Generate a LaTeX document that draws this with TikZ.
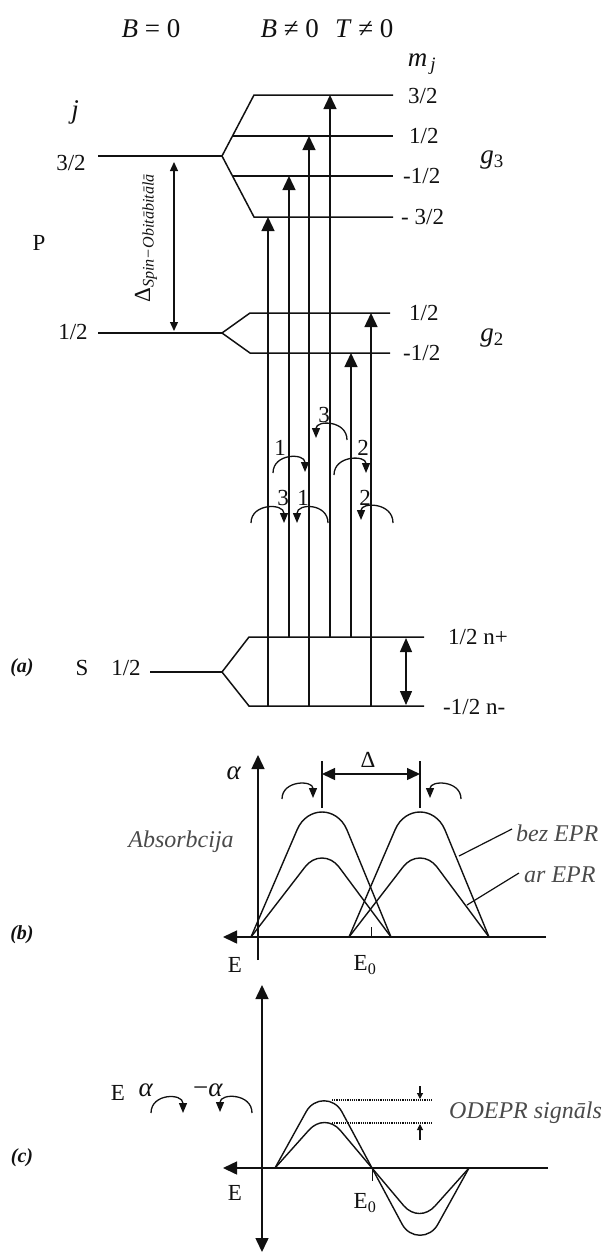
\documentclass[tikz,border=0pt]{standalone}
\usepackage{fontspec}
\setmainfont{Liberation Serif}
\usepackage{xcolor}
\usetikzlibrary{arrows.meta}
\definecolor{ink}{HTML}{111111}
\definecolor{soft}{HTML}{4A4A4A}

\begin{document}
\begin{tikzpicture}[x=1pt, y=-1pt, ink,
  lvl/.style={line width=1.5pt},
  trn/.style={line width=1.4pt, -{Triangle[length=14pt,width=13pt]}},
  curl/.style={line width=1.3pt, -{Triangle[length=10pt,width=8pt]}},
  dbl/.style={line width=1.4pt, {Triangle[length=13pt,width=12pt]}-{Triangle[length=13pt,width=12pt]}},
  crv/.style={line width=1.4pt, line join=round},
  lbl/.style={font=\fontsize{23}{26}\selectfont, inner sep=0pt},
  big/.style={font=\fontsize{27}{30}\selectfont, inner sep=0pt},
  tag/.style={font=\fontsize{20}{22}\selectfont\bfseries\itshape, inner sep=0pt},
  note/.style={font=\fontsize{24}{27}\selectfont\itshape, text=soft, inner sep=0pt}
]
\useasboundingbox (0,0) rectangle (602,1253);

% headings
\node[big] (bzero) at (151,29) {\textit{B} = 0};
\node[big] (bnon) at (327,29) {\textit{B} ≠ 0\hspace{0.6em}\textit{T} ≠ 0};
\node[big] (mj) at (422,64) {\textit{m}\textsubscript{\,\textit{j}}};
\node[big] (jj) at (75,112) {\textit{j}};

% P term, j = 3/2
\coordinate (pa) at (222,156);
\coordinate (u3) at (393,95);
\coordinate (u1) at (393,136);
\coordinate (um1) at (393,176);
\coordinate (um3) at (393,217);
\draw[lvl] (98,156) -- (pa);
\draw[lvl] (pa) -- (254,95) -- (u3);
\draw[lvl] (233,136) -- (u1);
\draw[lvl] (233,176) -- (um1);
\draw[lvl] (pa) -- (254,217) -- (um3);
\node[lbl] (l32) at (71,163) {3/2};
\node[lbl, anchor=west] (r3) at (408,96) {3/2};
\node[lbl, anchor=west] (r1) at (409,136) {1/2};
\node[lbl, anchor=west] (rm1) at (403,176) {-1/2};
\node[lbl, anchor=west] (rm3) at (401,217) {- 3/2};
\node[big] (g3) at (492,160) {\textit{g}\textsubscript{3}};
\node[lbl] (pp) at (39,243) {P};

% P term, j = 1/2
\coordinate (pb) at (222,333);
\coordinate (v1) at (390,313);
\coordinate (vm1) at (390,353);
\draw[lvl] (98,333) -- (pb);
\draw[lvl] (pb) -- (250,313) -- (v1);
\draw[lvl] (pb) -- (250,353) -- (vm1);
\node[lbl] (l12) at (73,332) {1/2};
\node[lbl, anchor=west] (s1) at (409,313) {1/2};
\node[lbl, anchor=west] (sm1) at (403,353) {-1/2};
\node[big] (g2) at (492,338) {\textit{g}\textsubscript{2}};

% spin-orbit gap
\coordinate (so1) at (174,162);
\coordinate (so2) at (174,331);
\draw[line width=1.3pt, {Triangle[length=9pt,width=8pt]}-{Triangle[length=9pt,width=8pt]}] (so1) -- (so2);
\node[lbl, rotate=90] (delso) at (146,238) {Δ\textsubscript{\textit{Spin−Obitābitālā}}};

% S term
\coordinate (sa) at (222,672);
\coordinate (np) at (424,637);
\coordinate (nm) at (424,706);
\draw[lvl] (150,672) -- (sa);
\draw[lvl] (sa) -- (249,637) -- (np);
\draw[lvl] (sa) -- (249,706) -- (nm);
\node[lbl] (ss) at (82,668) {S};
\node[lbl] (s12) at (126,668) {1/2};
\node[lbl, anchor=west] (lnp) at (448,637) {1/2 n+};
\node[lbl, anchor=west] (lnm) at (443,707) {-1/2 n-};
\coordinate (sd1) at (406,638);
\coordinate (sd2) at (406,705);
\draw[line width=1.4pt, {Triangle[length=14pt,width=12pt]}-{Triangle[length=14pt,width=12pt]}] (sd1) -- (sd2);
\node[tag] (taga) at (22,668) {(a)};

% optical transitions
\foreach \n/\x in {a/268, b/289, c/309, d/330, e/351, f/371}
  \coordinate (col\n) at (\x,0);
\draw[trn] (cola |- nm) -- (cola |- um3);
\draw[trn] (colb |- np) -- (colb |- um1);
\draw[trn] (colc |- nm) -- (colc |- u1);
\draw[trn] (cold |- np) -- (cold |- u3);
\draw[trn] (cole |- np) -- (cole |- vm1);
\draw[trn] (colf |- nm) -- (colf |- v1);

% polarisation curls
\draw[curl] (347,440) .. controls (347,420) and (316,420) .. (316,438);
\draw[curl] (273,473) .. controls (273,453) and (305,453) .. (305,472);
\draw[curl] (334,475) .. controls (334,455) and (366,455) .. (366,473);
\draw[curl] (251,523) .. controls (251,503) and (284,503) .. (284,523);
\draw[curl] (328,523) .. controls (328,503) and (297,503) .. (297,523);
\draw[curl] (393,523) .. controls (393,502) and (361,502) .. (361,520);
\node[lbl] (k3a) at (324,415) {3};
\node[lbl] (k1a) at (280,448) {1};
\node[lbl] (k2a) at (363,448) {2};
\node[lbl] (k3b) at (283,498) {3};
\node[lbl] (k1b) at (303,498) {1};
\node[lbl] (k2b) at (365,498) {2};

% (b) absorption
\draw[line width=1.5pt, -{Triangle[length=14pt,width=13pt]}] (258,960) -- (258,755);
\draw[line width=1.5pt, -{Triangle[length=14pt,width=13pt]}] (546,937) -- (223,937);
\draw[line width=1pt] (371,927) -- (371,937);
\foreach \c in {322,420}{
  \draw[crv] (\c-71,937) -- (\c-25,830) .. controls (\c-15,806) and (\c+15,806) .. (\c+25,830) -- (\c+69,937);
  \draw[crv] (\c-71,937) -- (\c-17,867) .. controls (\c-8,855) and (\c+8,855) .. (\c+17,867) -- (\c+69,937);
  \draw[line width=1.4pt] (\c,761) -- (\c,808);
}
\coordinate (dl) at (322,774);
\coordinate (dr) at (420,774);
\draw[dbl] (dl) -- (dr);
\node[lbl] (delta) at (368,760) {Δ};
\draw[curl] (282,799) .. controls (282,780) and (313,780) .. (313,798);
\draw[curl] (461,799) .. controls (461,780) and (430,780) .. (430,798);
\node[big] (alb) at (234,773) {\textit{α}};
\node[note] (absorb) at (181,842) {Absorbcija};
\node[note, anchor=west] (bez) at (516,833) {bez EPR};
\node[note, anchor=west] (ar) at (524,875) {ar EPR};
\draw[line width=1.2pt] (bez.west) ++(-4,-4) -- (459,856);
\draw[line width=1.2pt] (ar.west) ++(-5,-2) -- (467,905);
\node[lbl] (eb) at (235,965) {E};
\node[lbl] (e0b) at (365,965) {E\textsubscript{0}};
\node[tag] (tagb) at (22,935) {(b)};

% (c) ODEPR signal
\draw[line width=1.5pt, {Triangle[length=14pt,width=13pt]}-{Triangle[length=14pt,width=13pt]}] (262,1252) -- (262,985);
\draw[line width=1.5pt, -{Triangle[length=14pt,width=13pt]}] (548,1168) -- (223,1168);
\draw[line width=1pt] (372,1168) -- (372,1181);
\draw[crv] (275,1168) -- (306,1112) .. controls (314,1097) and (334,1097) .. (342,1112) -- (372,1168)
  -- (402,1224) .. controls (410,1239) and (430,1239) .. (438,1224) -- (469,1168);
\draw[crv] (275,1168) -- (309,1130) .. controls (318,1120) and (331,1120) .. (340,1130) -- (372,1168)
  -- (404,1206) .. controls (413,1216) and (426,1216) .. (435,1206) -- (469,1168);
\draw[line width=1.2pt, densely dotted] (332,1100) -- (432,1100);
\draw[line width=1.2pt, densely dotted] (332,1123) -- (432,1123);
\draw[line width=1.1pt, -{Triangle[length=6pt,width=6pt]}] (420,1086) -- (420,1099);
\draw[line width=1.1pt, -{Triangle[length=6pt,width=6pt]}] (420,1140) -- (420,1124);
\node[note, anchor=west] (odepr) at (449,1113) {ODEPR signāls};
\node[lbl] (ec) at (118,1093) {E};
\node[big] (alc) at (146,1090) {\textit{α}};
\node[big] (malc) at (208,1090) {−\textit{α}};
\draw[curl] (151,1113) .. controls (151,1093) and (183,1093) .. (183,1113);
\draw[curl] (252,1113) .. controls (252,1093) and (220,1093) .. (220,1112);
\node[lbl] (ecb) at (235,1193) {E};
\node[lbl] (e0c) at (365,1203) {E\textsubscript{0}};
\node[tag] (tagc) at (22,1158) {(c)};
\end{tikzpicture}
\end{document}
